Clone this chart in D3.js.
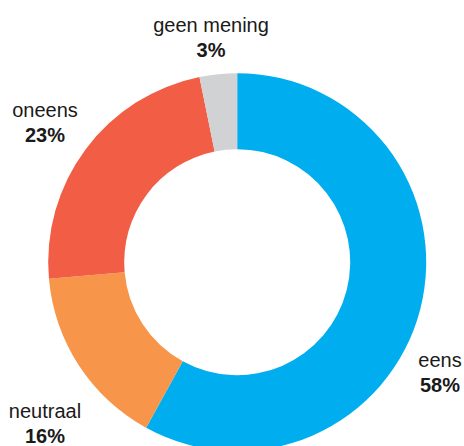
<!DOCTYPE html>
<html>
<head>
<meta charset="utf-8">
<script src="https://cdn.jsdelivr.net/npm/d3@7"></script>
<style>
  html, body { margin: 0; padding: 0; background: #fff; }
  svg { display: block; }
</style>
</head>
<body>
<svg id="chart" width="464" height="446"></svg>
<script>
const categories = ["eens", "neutraal", "oneens", "geen mening"];
const values = [58, 15.6, 23.2, 3.2];
const labels = ["58%", "16%", "23%", "3%"];
const colors = ["#00AEEF", "#F7964A", "#F15D45", "#D1D2D4"];

// label anchor points (layout only)
const labelPos = [
  { x: 440, y: 367 },
  { x: 45, y: 418 },
  { x: 45, y: 117 },
  { x: 211, y: 32 }
];

const svg = d3.select("#chart");
const cx = 237.2, cy = 262.2, outerR = 189, innerR = 113;

const pie = d3.pie().sort(null).value(d => d.value);
const data = categories.map((c, i) => ({ name: c, value: values[i], label: labels[i], color: colors[i], i }));
const arcs = pie(data);
const arc = d3.arc().innerRadius(innerR).outerRadius(outerR);

const g = svg.append("g").attr("transform", `translate(${cx},${cy})`);
g.selectAll("path")
  .data(arcs)
  .join("path")
  .attr("d", arc)
  .attr("fill", d => d.data.color);

const lg = svg.append("g");
arcs.forEach((d, i) => {
  const p = labelPos[i];
  const t = lg.append("text")
    .attr("text-anchor", "middle")
    .attr("font-family", "Liberation Sans, Arial, sans-serif")
    .attr("fill", "#1a1a1a");
  t.append("tspan")
    .attr("x", p.x).attr("y", p.y)
    .attr("font-size", 20)
    .text(d.data.name);
  t.append("tspan")
    .attr("x", p.x).attr("y", p.y + 25)
    .attr("font-size", 20)
    .attr("font-weight", "bold")
    .text(d.data.label);
});
</script>
</body>
</html>
